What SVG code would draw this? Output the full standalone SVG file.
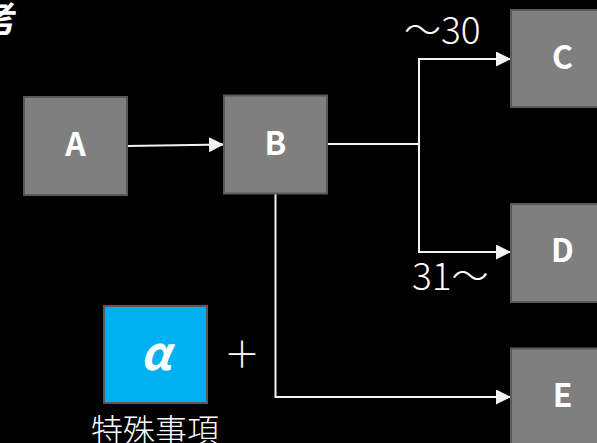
<svg xmlns="http://www.w3.org/2000/svg" width="597" height="443" viewBox="0 0 597 443">
<defs>
<style>
.box{fill:#7F7F7F;stroke:#595959;stroke-width:2}
.alpha{fill:#00B0F0;stroke:#595959;stroke-width:2}
.lbl{font-family:"Noto Sans CJK JP","Noto Sans",sans-serif;font-weight:bold;font-size:32px;fill:#FFFFFF;text-anchor:middle}
.thin{font-family:"Noto Sans CJK JP","Noto Sans",sans-serif;font-weight:300;fill:#FFFFFF}
.conn{fill:none;stroke:#F2F2F2;stroke-width:2}
</style>
<marker id="arr" markerUnits="userSpaceOnUse" markerWidth="16" markerHeight="16" refX="15" refY="7.5" orient="auto" viewBox="0 0 16 16">
<path d="M0,0 L15,7.5 L0,15 z" fill="#F2F2F2"/>
</marker>
</defs>
<rect width="597" height="443" fill="#000000"/>
<text x="18" y="32" class="lbl" style="text-anchor:end;font-size:36px">考</text>
<g id="connectors">
<path class="conn" d="M127,146 L224,144.5" marker-end="url(#arr)"/>
<path class="conn" d="M327,144 L419,144 L419,59 L511,59" marker-end="url(#arr)"/>
<path class="conn" d="M419,144 L419,252 L511,252" marker-end="url(#arr)"/>
<path class="conn" d="M275.5,194 L275.5,397 L511,397" marker-end="url(#arr)"/>
</g>
<g id="nodeA"><rect class="box" x="24" y="97" width="103" height="98"/><text class="lbl" x="75.5" y="155.5">A</text></g>
<g id="nodeB"><rect class="box" x="224" y="95.5" width="103" height="98"/><text class="lbl" x="275.5" y="155">B</text></g>
<g id="nodeC"><rect class="box" x="511" y="10" width="103" height="97"/><text class="lbl" x="562.5" y="68.5">C</text></g>
<g id="nodeD"><rect class="box" x="511" y="204" width="103" height="98"/><text class="lbl" x="562.5" y="261.5">D</text></g>
<g id="nodeE"><rect class="box" x="511" y="348.5" width="103" height="98"/><text class="lbl" x="562.5" y="406.5">E</text></g>
<g id="nodeAlpha"><rect class="alpha" x="104" y="306" width="103" height="97"/><text class="lbl" x="155.5" y="370" style="font-style:italic;font-size:46px">α</text></g>
<text class="thin" x="404" y="44" style="font-size:37px">～30</text>
<text class="thin" x="412" y="290" style="font-size:37px">31～</text>
<text class="thin" x="242" y="368" style="font-size:36px;text-anchor:middle">＋</text>
<text class="thin" x="155" y="442" style="font-size:32px;text-anchor:middle">特殊事項</text>
</svg>
